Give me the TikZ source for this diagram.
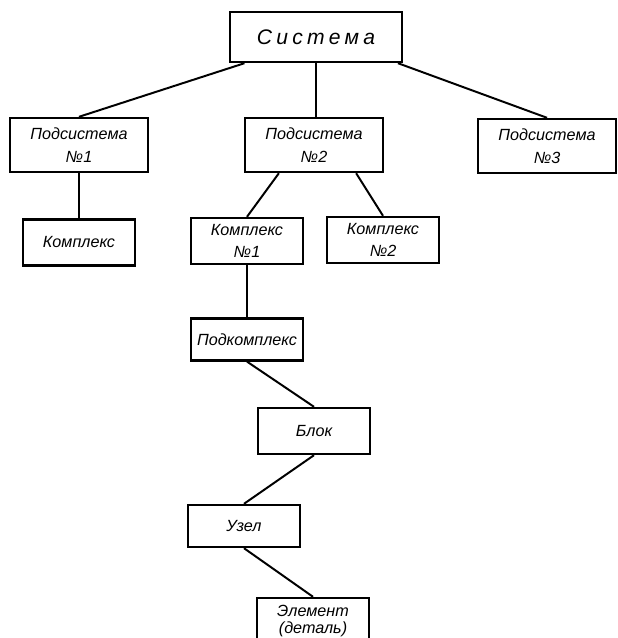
\documentclass[tikz,border=0pt]{standalone}
\usepackage{fontspec}
\setmainfont{Liberation Sans}
\usepackage{tikz}
\usetikzlibrary{positioning, calc}

\begin{document}
\begin{tikzpicture}[x=0.025cm, y=-0.025cm,
        block/.style={rectangle, draw, line width=1.7pt, align=center, inner sep=0pt,
            font=\fontsize{11.5}{16}\selectfont\itshape, minimum width=2.8cm, minimum height=1.15cm},
        bigblock/.style={block, minimum width=3.45cm, minimum height=1.35cm},
        line/.style={draw, line width=1.4pt}]

        \useasboundingbox (0,0) rectangle (618,638);

        % Nodes
        \node [block, minimum width=4.3cm, minimum height=1.25cm,
            font=\fontsize{15}{18}\selectfont\itshape\addfontfeature{LetterSpace=20}] (sys) at (316,37) {Система};
        \node [bigblock] (sub1) at (79,145) {Подсистема\\№1};
        \node [bigblock] (sub2) at (314,145) {Подсистема\\№2};
        \node [bigblock] (sub3) at (547,146) {Подсистема\\№3};
        \node [block, below=1.125cm of sub1] (kompl) {Комплекс};
        \node [block] (k1) at (247,241) {Комплекс\\№1};
        \node [block] (k2) at (383,240) {Комплекс\\№2};
        \node [block, below=1.3cm of k1, minimum height=1.05cm] (podk) {Подкомплекс};
        \node [block] (blok) at (314,431) {Блок};
        \node [block, minimum height=1.05cm] (uzel) at (244,526) {Узел};
        \node [block, font=\fontsize{11.5}{12.5}\selectfont\itshape] (elem) at (313,621) {Элемент\\(деталь)};

        % Paths
        \path [line] ($(sys.south west)!0.09!(sys.south east)$) -- (sub1.north);
        \path [line] (sys.south) -- (sys.south |- sub2.north);
        \path [line] ($(sys.south west)!0.97!(sys.south east)$) -- (sub3.north);
        \path [line] (sub1.south) -- (kompl.north);
        \path [line] ($(sub2.south west)!0.25!(sub2.south east)$) -- (k1.north);
        \path [line] ($(sub2.south west)!0.8!(sub2.south east)$) -- (k2.north);
        \path [line] (k1.south) -- (podk.north);
        \path [line] (podk.south) -- (blok.north);
        \path [line] (blok.south) -- (uzel.north);
        \path [line] (uzel.south) -- (elem.north);

    \end{tikzpicture}
\end{document}
